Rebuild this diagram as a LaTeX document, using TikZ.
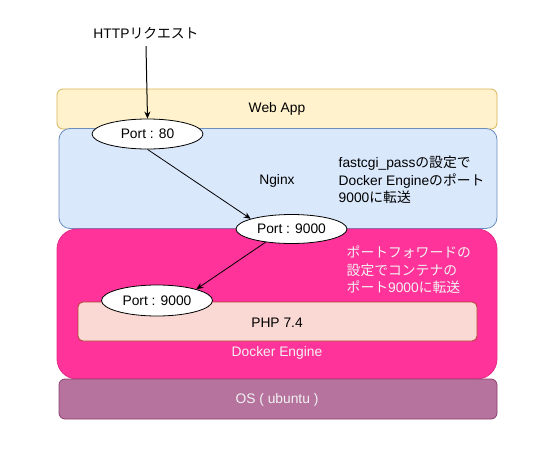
\documentclass[tikz,border=0pt]{standalone}
\usepackage{fontspec}
\setmainfont{Liberation Sans}
\newfontfamily\jp{Noto Sans CJK JP}
\usetikzlibrary{arrows.meta,shapes.geometric}
\definecolor{webfill}{HTML}{FFF2CC}
\definecolor{webdraw}{HTML}{D6B656}
\definecolor{ngfill}{HTML}{DAE8FC}
\definecolor{ngdraw}{HTML}{6C8EBF}
\definecolor{dkfill}{HTML}{FF3399}
\definecolor{dkdraw}{HTML}{E62E8A}
\definecolor{osfill}{HTML}{B5739D}
\definecolor{osdraw}{HTML}{8E3F6E}
\definecolor{phpfill}{HTML}{FAD9D5}
\definecolor{phpdraw}{HTML}{AE4132}
\definecolor{lighttext}{HTML}{F2F2F2}
\begin{document}
\begin{tikzpicture}[x=1pt,y=-1pt,
  font=\fontsize{13.8}{17.5}\selectfont,
  layer/.style={draw, line width=0.8pt, inner sep=0pt},
  port/.style={ellipse, draw=black, fill=white, line width=0.8pt, minimum width=111pt, minimum height=30pt, inner sep=0pt},
  conn/.style={-{Stealth[length=7pt,width=6pt]}, line width=0.8pt},
  lbl/.style={inner sep=0pt}]
\useasboundingbox (0,0) rectangle (547,453);
% layers
\node[layer, fill=webfill, draw=webdraw, rounded corners=6pt, minimum width=440pt, minimum height=40pt] (web) at (277,109) {Web App};
\node[layer, fill=ngfill, draw=ngdraw, rounded corners=11pt, minimum width=438pt, minimum height=100pt] (nginx) at (278,178.5) {};
\node[lbl] (nginxlbl) at (277,181) {Nginx};
\node[layer, fill=dkfill, draw=dkdraw, rounded corners=20pt, minimum width=440pt, minimum height=150pt] (docker) at (277,304) {};
\node[layer, fill=osfill, draw=osdraw, rounded corners=6pt, minimum width=438pt, minimum height=40pt] (os) at (278,399) {};
\node[lbl, text=lighttext] (oslbl) at (277,400) {OS ( ubuntu )};
\node[layer, fill=phpfill, draw=phpdraw, rounded corners=5pt, minimum width=399pt, minimum height=39pt] (php) at (277.5,321.5) {};
\node[lbl] (phplbl) at (277,323) {PHP 7.4};
\node[lbl, text=lighttext] (dklbl) at (277,353) {Docker Engine};
% notes
\node[lbl, anchor=west, align=left] (note1) at (338.5,180) {fastcgi\_pass{\jp の設定で}\\Docker Engine{\jp のポート}\\9000{\jp に転送}};
\node[lbl, anchor=west, align=left, text=lighttext] (note2) at (346.5,270) {\jp ポートフォワードの\\\jp 設定でコンテナの\\\jp ポート{\rmfamily 9000}に転送};
% ports
\node[lbl, inner ysep=7pt] (http) at (146,33) {HTTP{\jp リクエスト}};
\node[port] (p80) at (147.5,134) {Port : 80};
\node[port, minimum height=29pt] (p9000a) at (291.5,229) {Port : 9000};
\node[port, minimum height=31pt] (p9000b) at (157,300.5) {Port : 9000};
% connectors
\draw[conn, line width=1pt] (http.south) -- (p80.north);
\draw[conn] (p80.south) -- (p9000a.166);
\draw[conn] (p9000a.207) -- (p9000b.16);
\end{tikzpicture}
\end{document}
